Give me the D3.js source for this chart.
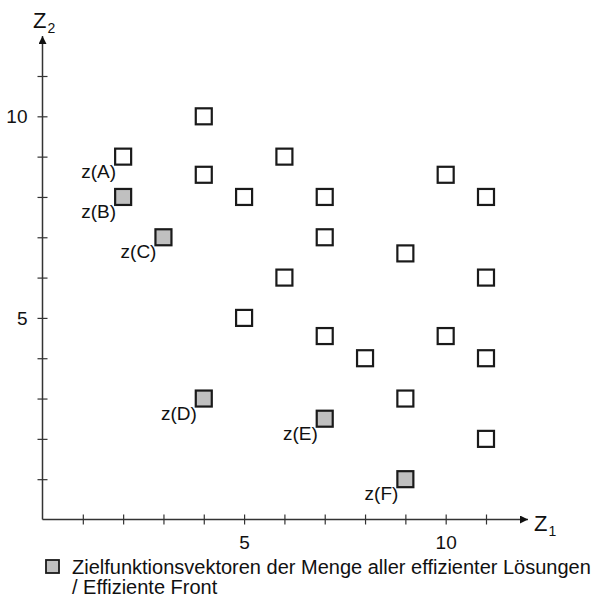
<!DOCTYPE html>
<html><head><meta charset="utf-8">
<script src="https://cdn.jsdelivr.net/npm/d3@7"></script>
<style>body{margin:0;background:#fff}svg{display:block;font-family:"Liberation Sans",Arial,sans-serif}</style>
</head><body>
<svg id="c" width="594" height="600"></svg>
<script>
// Dominated objective vectors (open squares)
const otherZ1 = [2, 4, 4, 5, 6, 7, 7, 6, 5, 7, 8, 9, 10, 11, 11, 10, 11, 9, 11];
const otherZ2 = [9, 10, 8.55, 8, 9, 8, 7, 6, 5, 4.55, 4, 6.6, 8.55, 8, 6, 4.55, 4, 3, 2];
const otherLabels = ["z(A)", "", "", "", "", "", "", "", "", "", "", "", "", "", "", "", "", "", ""];
// Efficient front (filled squares)
const effZ1 = [2, 3, 4, 7, 9];
const effZ2 = [8, 7, 3, 2.5, 1];
const effLabels = ["z(B)", "z(C)", "z(D)", "z(E)", "z(F)"];
const tickValues = [1, 2, 3, 4, 5, 6, 7, 8, 9, 10, 11];
const labeledTicks = [5, 10];
const legendLines = ["Zielfunktionsvektoren der Menge aller effizienter Lösungen", "/ Effiziente Front"];

const svg = d3.select("#c");
const x = d3.scaleLinear().domain([0, 11]).range([42.5, 486]);
const y = d3.scaleLinear().domain([0, 11]).range([519.5, 76]);
const axisColor = "#333";

svg.append("defs").append("marker").attr("id", "arr")
  .attr("viewBox", "0 0 10 10").attr("refX", 10).attr("refY", 5)
  .attr("markerWidth", 9).attr("markerHeight", 8).attr("markerUnits", "userSpaceOnUse")
  .attr("orient", "auto")
  .append("path").attr("d", "M0,0 L10,5 L0,10 Z").attr("fill", "#111");

svg.append("line").attr("x1", x(0)).attr("y1", y(0)).attr("x2", 528).attr("y2", y(0))
  .attr("stroke", axisColor).attr("stroke-width", 1.5).attr("marker-end", "url(#arr)");
svg.append("line").attr("x1", x(0)).attr("y1", y(0)).attr("x2", x(0)).attr("y2", 36)
  .attr("stroke", axisColor).attr("stroke-width", 1.5).attr("marker-end", "url(#arr)");

const fmt = d => labeledTicks.includes(d) ? String(d) : "";
const xa = svg.append("g").attr("transform", `translate(0,${y(0)})`)
  .call(d3.axisBottom(x).tickValues(tickValues).tickSize(5).tickPadding(11).tickFormat(fmt));
xa.select(".domain").remove();
xa.selectAll(".tick line").attr("y1", -5).attr("y2", 5).attr("stroke", axisColor).attr("stroke-width", 1.2);
xa.selectAll(".tick text").attr("font-size", 19).attr("fill", "#111").attr("font-family", "Liberation Sans, Arial, sans-serif");

const ya = svg.append("g").attr("transform", `translate(${x(0)},0)`)
  .call(d3.axisLeft(y).tickValues(tickValues).tickSize(5).tickPadding(10).tickFormat(fmt));
ya.select(".domain").remove();
ya.selectAll(".tick line").attr("x1", -5).attr("x2", 5).attr("stroke", axisColor).attr("stroke-width", 1.2);
ya.selectAll(".tick text").attr("font-size", 19).attr("fill", "#111").attr("font-family", "Liberation Sans, Arial, sans-serif");

const t2 = svg.append("text").attr("x", 33).attr("y", 28).attr("font-size", 22).attr("fill", "#111");
t2.append("tspan").text("Z");
t2.append("tspan").attr("font-size", 14).attr("dy", 5).attr("dx", 1).text("2");
const t1 = svg.append("text").attr("x", 534).attr("y", 531).attr("font-size", 22).attr("fill", "#111");
t1.append("tspan").text("Z");
t1.append("tspan").attr("font-size", 14).attr("dy", 5).attr("dx", 1).text("1");

const S = 16;
function drawSet(z1, z2, labels, fill) {
  const data = z1.map((v, i) => ({a: v, b: z2[i], l: labels[i]}));
  svg.append("g").selectAll("rect").data(data).join("rect")
    .attr("x", d => x(d.a) - S / 2).attr("y", d => y(d.b) - S / 2)
    .attr("width", S).attr("height", S)
    .attr("fill", fill).attr("stroke", "#1a1a1a").attr("stroke-width", 2.2);
  svg.append("g").selectAll("text").data(data.filter(d => d.l)).join("text")
    .attr("x", d => x(d.a) - 7).attr("y", d => y(d.b) + 21)
    .attr("text-anchor", "end").attr("font-size", 19).attr("fill", "#111")
    .text(d => d.l);
}
drawSet(otherZ1, otherZ2, otherLabels, "#fff");
drawSet(effZ1, effZ2, effLabels, "#c0c0c0");

svg.append("rect").attr("x", 46).attr("y", 560).attr("width", 13).attr("height", 13)
  .attr("fill", "#c0c0c0").attr("stroke", "#1a1a1a").attr("stroke-width", 1.8);
svg.append("g").selectAll("text").data(legendLines).join("text")
  .attr("x", 72).attr("y", (d, i) => 574 + i * 20)
  .attr("font-size", 20).attr("fill", "#111").text(d => d);
</script>
</body></html>
